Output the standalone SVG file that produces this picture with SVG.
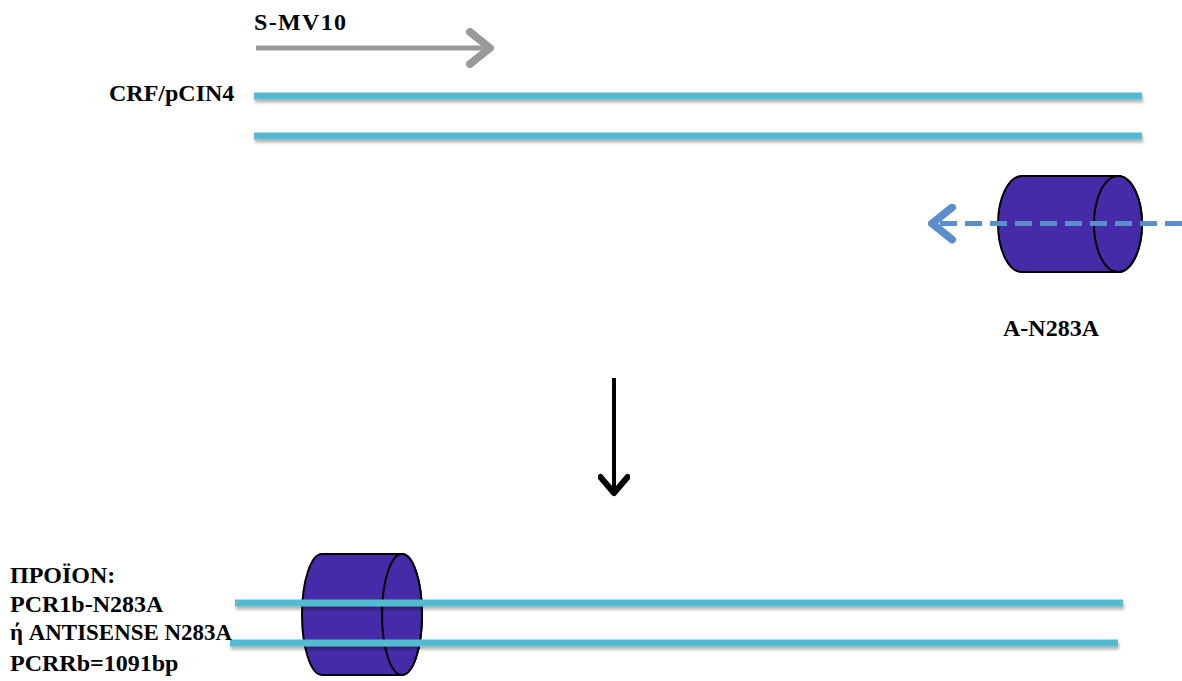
<svg xmlns="http://www.w3.org/2000/svg" width="1182" height="681" viewBox="0 0 1182 681">
  <style>
    .lbl { font-family: "Liberation Serif", "DejaVu Serif", serif; font-weight: bold; font-size: 24px; fill: #000; }
    .strand { fill: #57b9d0; filter: url(#sh); }
    .cyl { fill: #452ba8; stroke: #000; stroke-width: 2; }
  </style>
  <defs>
    <filter id="sh" filterUnits="userSpaceOnUse" x="0" y="0" width="1182" height="681">
      <feDropShadow dx="1" dy="3" stdDeviation="1.5" flood-color="#000" flood-opacity="0.3"/>
    </filter>
    <marker id="grayHead" markerWidth="8" markerHeight="8" refX="5" refY="4" orient="auto" markerUnits="strokeWidth">
      <path d="M1,0.8 L5,4 L1,7.2" fill="none" stroke="#999" stroke-width="1.6" stroke-linecap="round" stroke-linejoin="round"/>
    </marker>
    <marker id="blueHead" markerWidth="8" markerHeight="8" refX="5" refY="4" orient="auto" markerUnits="strokeWidth">
      <path d="M1,0.8 L5,4 L1,7.2" fill="none" stroke="#5b8fcb" stroke-width="1.6" stroke-linecap="round" stroke-linejoin="round"/>
    </marker>
    <marker id="blackHead" markerWidth="8" markerHeight="8" refX="5" refY="4" orient="auto" markerUnits="strokeWidth">
      <path d="M1,0.6 L5,4 L1,7.4" fill="none" stroke="#000" stroke-width="1.5" stroke-linecap="round" stroke-linejoin="round"/>
    </marker>
  </defs>

  <!-- primer S-MV10 -->
  <g id="primer-s">
    <text class="lbl" x="254" y="30" textLength="92" lengthAdjust="spacing">S-MV10</text>
  </g>

  <!-- template plasmid strands -->
  <g id="template">
    <text class="lbl" x="109" y="101">CRF/pCIN4</text>
    <rect class="strand" x="254" y="92.5" width="888" height="7"/>
    <rect class="strand" x="254" y="132.5" width="888" height="7"/>
  </g>

  <!-- mutagenic primer A-N283A -->
  <g id="primer-a">
    <path class="cyl" d="M1022,176 L1118,176 A24,48 0 0 1 1118,272 L1022,272 A24,48 0 0 1 1022,176 Z"/>
    <ellipse class="cyl" cx="1118" cy="224" rx="24" ry="48"/>
    <text class="lbl" x="1051" y="336" text-anchor="middle">A-N283A</text>
  </g>

  <!-- PCR product -->
  <g id="product">
    <path class="cyl" d="M322,554 L402,554 A20,60.5 0 0 1 402,675 L322,675 A20,60.5 0 0 1 322,554 Z"/>
    <ellipse class="cyl" cx="402" cy="614.5" rx="20" ry="60.5"/>
    <rect class="strand" x="235" y="599.5" width="888" height="7"/>
    <rect class="strand" x="230" y="639.5" width="888" height="7"/>
    <text class="lbl" x="10" y="583">ΠΡΟΪΟΝ:</text>
    <text class="lbl" x="10" y="612">PCR1b-N283A</text>
    <text class="lbl" x="10" y="640" textLength="222" lengthAdjust="spacingAndGlyphs">ή ANTISENSE N283A</text>
    <text class="lbl" x="10" y="671">PCRRb=1091bp</text>
  </g>

  <!-- connectors -->
  <g id="connectors">
    <line x1="256" y1="48" x2="490" y2="48" stroke="#999" stroke-width="5" marker-end="url(#grayHead)"/>
    <line x1="1182" y1="223.5" x2="932" y2="223.5" stroke="#5b8fcb" stroke-width="5" stroke-dasharray="17,8" marker-end="url(#blueHead)"/>
    <line x1="614" y1="378" x2="614" y2="493" stroke="#000" stroke-width="4" marker-end="url(#blackHead)"/>
  </g>
</svg>
